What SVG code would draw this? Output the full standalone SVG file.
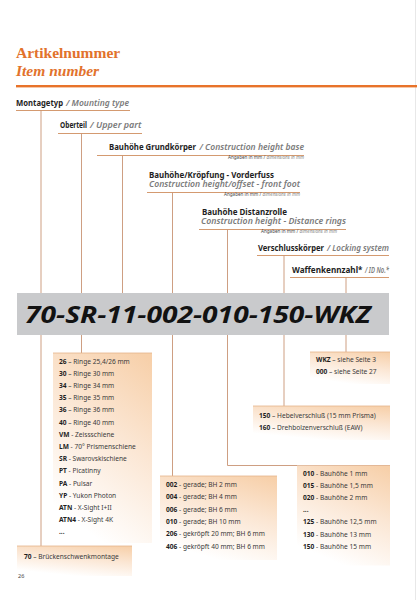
<svg xmlns="http://www.w3.org/2000/svg" width="417" height="600" viewBox="0 0 417 600">
<defs>
<linearGradient id="bg" x1="0.9" y1="0" x2="0.5" y2="1">
<stop offset="0" stop-color="#f7d0aa"/>
<stop offset="0.45" stop-color="#fbe6d3"/>
<stop offset="1" stop-color="#ffffff"/>
</linearGradient>
<style>
.t{font-family:"Liberation Serif",serif;font-weight:bold;fill:#e2722c}
.h{font-family:"Noto Sans","Open Sans",sans-serif;font-size:8px;font-weight:bold;fill:#1e1e1e}
.hi{font-style:italic;fill:#7b7b7b;font-weight:600}
.a{font-family:"Noto Sans","Open Sans",sans-serif;font-size:4.6px;fill:#444}
.ai{font-style:italic;fill:#888}
.l{font-family:"Noto Sans","Open Sans",sans-serif;font-size:6.6px;fill:#3a3a3a}
.b{font-weight:bold;fill:#1e1e1e}
.ul{stroke:#d49a70;stroke-width:1;fill:none}
.c{stroke:#c89474;stroke-width:0.9;fill:none}
.box{fill:url(#bg)}
.bt{stroke:#e4b48c;stroke-width:0.8}
</style>
</defs>
<rect width="417" height="600" fill="#ffffff"/>
<line x1="415.5" y1="0" x2="415.5" y2="600" stroke="#e8e8e8" stroke-width="1"/>

<g id="title">
<text class="t" x="16" y="58" font-size="15.5">Artikelnummer</text>
<text class="t" x="16" y="76" font-size="15.5" font-style="italic" fill="#e8843c">Item number</text>
<rect x="16" y="85" width="401" height="2.4" fill="#e8732a"/>
</g>

<g id="connectors">
<path class="ul" d="M16 110.5H130M58 133.5H142M97 155.5H304M147 192.5H300M199 229.5H346M257 255.5H389M290 277.5H389"/>
<path class="c" d="M41 110.5V293M81.5 133.5V293M122.5 155.5V293M172.5 192.5V293M227.5 229.5V293M284 255.5V293M346 277.5V293"/>
<path class="c" d="M41 335V546M81.5 335V353M172.5 335V476M227.5 335V465.5H390M284 335V406M346 335V352"/>
</g>

<g id="h-montagetyp">
<text class="h" x="16" y="106" textLength="47" lengthAdjust="spacingAndGlyphs">Montagetyp</text>
<text class="h hi" x="66" y="106" textLength="63" lengthAdjust="spacingAndGlyphs">/ Mounting type</text>
</g>
<g id="h-oberteil">
<text class="h" x="60" y="128" textLength="27" lengthAdjust="spacingAndGlyphs">Oberteil</text>
<text class="h hi" x="90" y="128" textLength="51.5" lengthAdjust="spacingAndGlyphs">/ Upper part</text>
</g>
<g id="h-grundkoerper">
<text class="h" x="109" y="150" textLength="87" lengthAdjust="spacingAndGlyphs">Bauhöhe Grundkörper</text>
<text class="h hi" x="199.5" y="150" textLength="104.5" lengthAdjust="spacingAndGlyphs">/ Construction height base</text>
<text class="a" x="304" y="158.5" text-anchor="end">Angaben in mm / <tspan class="ai">dimensions in mm</tspan></text>
</g>
<g id="h-vorderfuss">
<text class="h" x="149" y="177.5" textLength="125" lengthAdjust="spacingAndGlyphs">Bauhöhe/Kröpfung - Vorderfuss</text>
<text class="h hi" x="149" y="187" textLength="151" lengthAdjust="spacingAndGlyphs">Construction height/offset - front foot</text>
<text class="a" x="300" y="196" text-anchor="end">Angaben in mm / <tspan class="ai">dimensions in mm</tspan></text>
</g>
<g id="h-distanzrolle">
<text class="h" x="202" y="214.5" textLength="85" lengthAdjust="spacingAndGlyphs">Bauhöhe Distanzrolle</text>
<text class="h hi" x="201" y="224" textLength="145" lengthAdjust="spacingAndGlyphs">Construction height - Distance rings</text>
<text class="a" x="337" y="233" text-anchor="end">Angaben in mm / <tspan class="ai">dimensions in mm</tspan></text>
</g>
<g id="h-verschluss">
<text class="h" x="258" y="251" textLength="66" lengthAdjust="spacingAndGlyphs">Verschlusskörper</text>
<text class="h hi" x="327" y="251" textLength="62" lengthAdjust="spacingAndGlyphs">/ Locking system</text>
</g>
<g id="h-waffen">
<text class="h" x="292" y="273" textLength="70.5" lengthAdjust="spacingAndGlyphs">Waffenkennzahl*</text>
<text class="h hi" x="365" y="273" textLength="24" lengthAdjust="spacingAndGlyphs">/ ID No.*</text>
</g>

<g id="code">
<rect x="17" y="293" width="372" height="42" fill="#c9cacc"/>
<text x="25" y="323" font-family="'Open Sans','DejaVu Sans',sans-serif" font-weight="bold" font-style="italic" font-size="23" fill="#121212" textLength="346" lengthAdjust="spacingAndGlyphs">70-SR-11-002-010-150-WKZ</text>
</g>

<g id="box-wkz">
<rect class="box" x="310" y="352" width="80" height="32"/>
<line class="bt" x1="310" y1="352" x2="390" y2="352"/>
<text class="l" x="316" y="362"><tspan class="b">WKZ</tspan> – siehe Seite 3</text>
<text class="l" x="316" y="374"><tspan class="b">000</tspan> – siehe Seite 27</text>
</g>

<g id="box-verschluss">
<rect class="box" x="253" y="406" width="137" height="34"/>
<line class="bt" x1="253" y1="406" x2="390" y2="406"/>
<text class="l" x="259" y="418"><tspan class="b">150</tspan> – Hebelverschluß (15 mm Prisma)</text>
<text class="l" x="259" y="430"><tspan class="b">160</tspan> – Drehbolzenverschluß (EAW)</text>
</g>

<g id="box-ringe">
<rect class="box" x="53" y="353" width="99" height="190"/>
<line class="bt" x1="53" y1="353" x2="152" y2="353"/>
<text class="l" x="59" y="363.5"><tspan class="b">26</tspan> – Ringe 25,4/26 mm</text>
<text class="l" x="59" y="375.7"><tspan class="b">30</tspan> – Ringe 30 mm</text>
<text class="l" x="59" y="387.9"><tspan class="b">34</tspan> – Ringe 34 mm</text>
<text class="l" x="59" y="400.1"><tspan class="b">35</tspan> – Ringe 35 mm</text>
<text class="l" x="59" y="412.3"><tspan class="b">36</tspan> – Ringe 36 mm</text>
<text class="l" x="59" y="424.5"><tspan class="b">40</tspan> – Ringe 40 mm</text>
<text class="l" x="59" y="436.7"><tspan class="b">VM</tspan> - Zeissschiene</text>
<text class="l" x="59" y="448.9"><tspan class="b">LM</tspan> - 70° Prismenschiene</text>
<text class="l" x="59" y="461.1"><tspan class="b">SR</tspan> - Swarovskischiene</text>
<text class="l" x="59" y="473.3"><tspan class="b">PT</tspan> - Picatinny</text>
<text class="l" x="59" y="485.5"><tspan class="b">PA</tspan> - Pulsar</text>
<text class="l" x="59" y="497.7"><tspan class="b">YP</tspan> - Yukon Photon</text>
<text class="l" x="59" y="509.9"><tspan class="b">ATN</tspan> - X-Sight I+II</text>
<text class="l" x="59" y="522.1"><tspan class="b">ATN4</tspan> - X-Sight 4K</text>
<text class="l b" x="59" y="534.3">...</text>
</g>

<g id="box-vorderfuss">
<rect class="box" x="160" y="476" width="117" height="84"/>
<line class="bt" x1="160" y1="476" x2="277" y2="476"/>
<text class="l" x="166" y="487"><tspan class="b">002</tspan> - gerade; BH 2 mm</text>
<text class="l" x="166" y="499.3"><tspan class="b">004</tspan> - gerade; BH 4 mm</text>
<text class="l" x="166" y="511.6"><tspan class="b">006</tspan> - gerade; BH 6 mm</text>
<text class="l" x="166" y="523.9"><tspan class="b">010</tspan> - gerade; BH 10 mm</text>
<text class="l" x="166" y="536.2"><tspan class="b">206</tspan> - gekröpft 20 mm; BH 6 mm</text>
<text class="l" x="166" y="548.5"><tspan class="b">406</tspan> - gekröpft 40 mm; BH 6 mm</text>
</g>

<g id="box-distanz">
<rect class="box" x="297" y="465.5" width="93" height="100"/>
<text class="l" x="303" y="475.5"><tspan class="b">010</tspan> - Bauhöhe 1 mm</text>
<text class="l" x="303" y="487.7"><tspan class="b">015</tspan> - Bauhöhe 1,5 mm</text>
<text class="l" x="303" y="499.9"><tspan class="b">020</tspan> - Bauhöhe 2 mm</text>
<text class="l b" x="303" y="512.1">...</text>
<text class="l" x="303" y="524.3"><tspan class="b">125</tspan> - Bauhöhe 12,5 mm</text>
<text class="l" x="303" y="536.5"><tspan class="b">130</tspan> - Bauhöhe 13 mm</text>
<text class="l" x="303" y="548.7"><tspan class="b">150</tspan> - Bauhöhe 15 mm</text>
</g>

<g id="box-montage">
<rect class="box" x="17" y="546" width="115" height="30"/>
<line class="bt" x1="17" y1="546" x2="132" y2="546"/>
<text class="l" x="24" y="559"><tspan class="b">70</tspan> – Brückenschwenkmontage</text>
</g>

<text x="18" y="577.5" font-family="'Noto Sans',sans-serif" font-size="5.5" fill="#444">26</text>
</svg>
